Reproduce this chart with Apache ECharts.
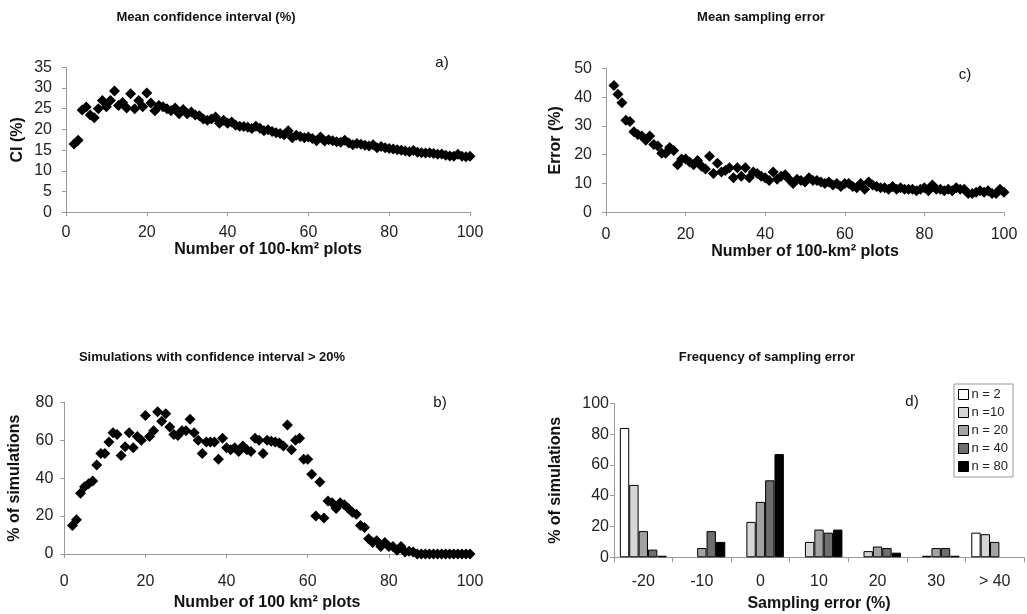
<!DOCTYPE html>
<html><head><meta charset="utf-8">
<script src="https://cdn.jsdelivr.net/npm/echarts@6/dist/echarts.min.js"></script>
<style>html,body{margin:0;padding:0;background:#fff}#c{width:1027px;height:614px}</style>
</head><body><div id="c"></div><script>
const FONT = '"Liberation Sans", Arial, sans-serif';

// number of 100-km2 plots (x values of panels a, b, c)
const plots = [2,3,4,5,6,7,8,9,10,11,12,13,14,15,16,17,18,19,20,
21,22,23,24,25,26,27,28,29,30,31,32,33,34,35,36,37,38,39,40,
41,42,43,44,45,46,47,48,49,50,51,52,53,54,55,56,57,58,59,60,
61,62,63,64,65,66,67,68,69,70,71,72,73,74,75,76,77,78,79,80,
81,82,83,84,85,86,87,88,89,90,91,92,93,94,95,96,97,98,99,100];

// a) mean confidence interval (%)
const ciMean = [16.5,17.4,24.7,25.4,23.5,22.8,25,27,25.5,27,29.3,25.8,26.5,25.2,28.6,25,27,25.5,28.8,
26.4,24.5,25.8,25.5,25,24.5,25.2,23.8,24.8,23.8,24.2,23.5,23.3,22.5,22.2,22.5,23,21.5,22.2,21.5,
21.8,21,20.8,20.7,20.5,20.2,20.8,20.3,19.7,19.9,19.5,19.2,19,18.7,19.7,18,18.6,18.3,18,18.2,
17.8,17.3,18.2,17.2,17.5,17.3,17,16.9,17.4,16.7,16.3,16.6,16.4,16.2,16,16.3,15.6,15.9,15.6,15.4,
15.3,15.1,15,14.8,14.6,14.9,14.5,14.4,14.3,14.4,14.2,14,14.1,13.8,13.6,13.5,14,13.5,13.4,13.5];

// c) mean sampling error (%)
const errMean = [44,41,38,32,31.5,28,27,26.5,25,26.5,23.5,23,20.5,20.5,22.5,21.5,16.5,18.5,18.5,
17.5,16.5,18,16,15,19.5,13.5,17,14,14.5,15.5,12,15.5,12.5,15.5,12,14,13.5,12.5,12,
11,14,11.5,12.5,13,11.5,10,11.5,11,10.5,12,11,11,10.5,10,10.5,9.5,10,9,10,
10,9,8.5,10,8,10.5,9.5,9,8.5,8.5,8,9,8,8.5,8,8,8,7.5,8,8.5,
7.5,9.5,8,8,7.5,8,7.5,8.5,8,8,6.5,6.5,7,7.5,7,7.5,6.5,6.5,8,7];

// b) % of simulations with CI > 20%
const pctCI20 = [15,18,32,35.5,37,38.5,47,53,53,59,64,63,52,56.5,64,56,62,60,73,
62,65,75,70,74,67,63,62.5,65,65,71,64,60,53,59,59,59,50,61,56,
55,56,54,57,55,54,61,60,53,60,59.5,59,58.5,57,68,55,60,61,50,50,
42,20,38,19,28,27,24,27,26,24,22,21,15,14,8,6,7,4,6,4,
4,2,4,1,1.5,1,0,0,0,0,0,0,0,0,0,0,0,0,0,0];

// d) frequency of sampling error
const errCats = ['-20','-10','0','10','20','30','> 40'];
const freqN2  = [84,0,0,0,0,0,16];
const freqN10 = [47,0,23,10,4,1,15];
const freqN20 = [17,6,36,18,7,6,10];
const freqN40 = [5,17,50,16,6,6,0];
const freqN80 = [1,10,67,18,3,1,0];
const seriesNames = ['n = 2','n =10','n = 20','n = 40','n = 80'];
const barColors = ['#ffffff','#d6d6d6','#a3a3a3','#6e6e6e','#000000'];

const pair = (xs, ys) => xs.map((x, i) => [x, ys[i]]);

const axisLineStyle = {lineStyle:{color:'#9a9a9a', width:1}};
const tickStyle = {show:true, length:4, lineStyle:{color:'#9a9a9a', width:1}};
const nameStyle = {fontSize:16, fontWeight:'bold', color:'#111', fontFamily:FONT};

function xVal(gi, margin, nameGap, name) {
  return {type:'value', gridIndex:gi, min:0, max:100, interval:20,
    axisLine:axisLineStyle, axisTick:tickStyle, splitLine:{show:false},
    axisLabel:{fontSize:16, color:'#222', fontFamily:FONT, margin:margin},
    name:name, nameLocation:'middle', nameGap:nameGap, nameTextStyle:nameStyle};
}
function yVal(gi, max, interval, margin, nameGap, name) {
  return {type:'value', gridIndex:gi, min:0, max:max, interval:interval,
    axisLine:{show:true, lineStyle:{color:'#9a9a9a', width:1}}, axisTick:tickStyle, splitLine:{show:false},
    axisLabel:{fontSize:16, color:'#222', fontFamily:FONT, margin:margin},
    name:name, nameLocation:'middle', nameGap:nameGap, nameRotate:90, nameTextStyle:nameStyle};
}

const scatterBase = {type:'scatter', symbol:'diamond', symbolSize:11,
  itemStyle:{color:'#000', opacity:1}, silent:true};

const chart = echarts.init(document.getElementById('c'), null, {renderer:'canvas'});

const barSeries = [freqN2, freqN10, freqN20, freqN40, freqN80].map((d, i) => ({
  type:'bar', name:seriesNames[i], xAxisIndex:3, yAxisIndex:3,
  data:d.map(v => v === 0 ? '-' : v),
  barGap:'0%', barCategoryGap:'20%',
  itemStyle:{color:barColors[i], borderColor:'#000', borderWidth:1, opacity:1}, silent:true
}));

function label(x, y, text, bold, size) {
  return {type:'text', x:x, y:y, silent:true,
    style:{text:text, fontSize:size, fontWeight:bold ? 'bold' : 'normal', fontFamily:FONT,
      fill:'#111', align:'center', verticalAlign:'middle'}};
}

chart.setOption({
  animation:false,
  backgroundColor:'#fff',
  textStyle:{fontFamily:FONT},
  grid:[
    {left:66, top:67.3, width:404, height:145},
    {left:606, top:68.3, width:398, height:144},
    {left:64.3, top:402.3, width:405.7, height:151.7},
    {left:614, top:403.3, width:410, height:154}
  ],
  xAxis:[
    xVal(0, 12, 19, 'Number of 100-km\u00b2 plots'),
    xVal(1, 14, 18, 'Number of 100-km\u00b2 plots'),
    xVal(2, 20, 41, 'Number of 100 km\u00b2 plots'),
    {type:'category', gridIndex:3, data:errCats,
      axisLine:axisLineStyle, axisTick:{show:true, length:5, interval:0, lineStyle:{color:'#9a9a9a'}},
      axisLabel:{fontSize:16, color:'#222', fontFamily:FONT, margin:16, interval:0},
      name:'Sampling error (%)', nameLocation:'middle', nameGap:38, nameTextStyle:nameStyle}
  ],
  yAxis:[
    yVal(0, 35, 5, 14, 40, 'CI (%)'),
    yVal(1, 50, 10, 14, 42, 'Error (%)'),
    yVal(2, 80, 20, 11, 42, '% of simulations'),
    yVal(3, 100, 20, 5, 50, '% of simulations')
  ],
  legend:{data:seriesNames, orient:'vertical', left:954, top:384,
    itemWidth:10, itemHeight:10, itemGap:5, icon:'rect',
    borderColor:'#999', borderWidth:1, padding:[4,5,4,4], selectedMode:false,
    itemStyle:{borderColor:'#000', borderWidth:1},
    textStyle:{fontSize:13, color:'#222', fontFamily:FONT, lineHeight:10, padding:[0,0,0,-2]}},
  series:[
    Object.assign({}, scatterBase, {xAxisIndex:0, yAxisIndex:0, data:pair(plots, ciMean)}),
    Object.assign({}, scatterBase, {xAxisIndex:1, yAxisIndex:1, data:pair(plots, errMean)}),
    Object.assign({}, scatterBase, {xAxisIndex:2, yAxisIndex:2, data:pair(plots, pctCI20)}),
    ...barSeries
  ],
  graphic:[
    label(206, 17, 'Mean confidence interval (%)', true, 13),
    label(761, 17, 'Mean sampling error', true, 13),
    label(212, 357, 'Simulations with confidence interval > 20%', true, 13),
    label(767, 357, 'Frequency of sampling error', true, 13),
    label(442, 63, 'a)', false, 15),
    label(965, 75, 'c)', false, 15),
    label(440, 403, 'b)', false, 15),
    label(912, 402, 'd)', false, 15)
  ]
});
</script></body></html>
